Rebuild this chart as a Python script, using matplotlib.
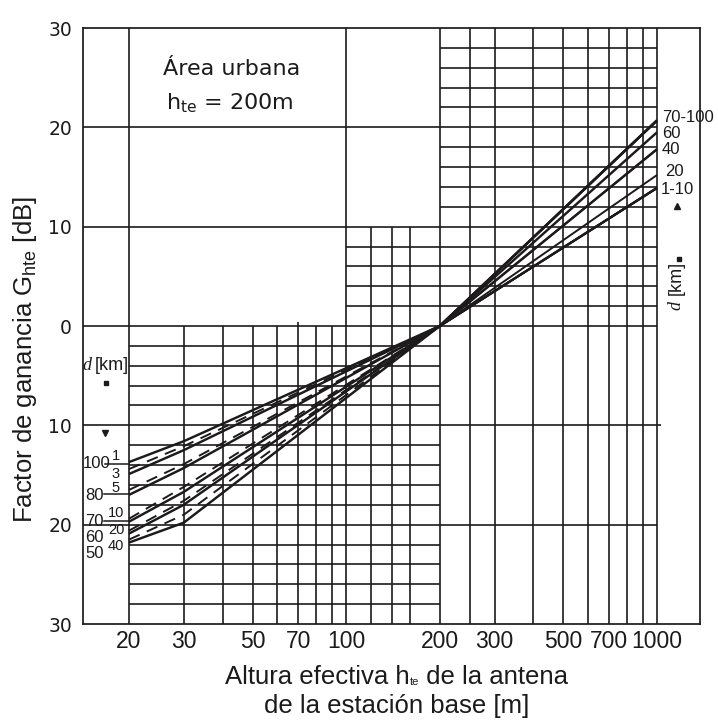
import matplotlib
matplotlib.use('Agg')
import matplotlib.pyplot as plt
from matplotlib.ticker import FixedLocator, FuncFormatter, NullLocator

# Antenna heights where the gain curves are read [m]
h_pts = [20, 30, 200, 1000]

# Gain factor G_hte [dB] for each distance d [km]
g_d100 = [-13.7, -11.6, 0.0, 20.7]
g_d80 = [-17.0, -14.3, 0.0, 20.7]
g_d70 = [-19.7, -16.7, 0.0, 20.7]
g_d60 = [-20.9, -18.0, 0.0, 19.5]
g_d50 = [-21.8, -19.8, 0.0, 17.8]
g_d3 = [-14.9, -12.5, 0.0, 13.9]
g_d1 = [-14.4, -12.1, 0.0, 13.9]
g_d5 = [-16.5, -13.9, 0.0, 13.9]
g_d10 = [-19.4, -16.2, 0.0, 13.9]
g_d20 = [-20.6, -17.6, 0.0, 15.2]
g_d40 = [-21.5, -19.0, 0.0, 17.8]

x_ticks = [20, 30, 50, 70, 100, 200, 300, 500, 700, 1000]
y_ticks = [-30, -20, -10, 0, 10, 20, 30]

INK = '#1c1a1b'
SANS = ['Liberation Sans', 'DejaVu Sans']

W, H = 718, 720
fig = plt.figure(figsize=(W / 100, H / 100), dpi=100)


def fx(px):
    return px / W


def fy(py):
    return 1 - py / H


ax = fig.add_axes([fx(83), fy(624), (700 - 83) / W, (624 - 28) / H])
ax.set_xscale('log')
ax.set_xlim(14.22, 1375)
ax.set_ylim(-30, 30)
for s in ax.spines.values():
    s.set_color(INK)
    s.set_linewidth(1.25)

# chart paper grid, denser where the curves run
glw = 1.2
xl = ax.get_xlim()[0]
ax.hlines([20, 10, 0, -10, -20], xl, 1000, color=INK, lw=glw)
ax.hlines(-10, 1000, 1030, color=INK, lw=glw)
ax.hlines([v for v in range(2, 30, 2) if v not in (10, 20)], 200, 1000, color=INK, lw=glw)
ax.hlines([2, 4, 6, 8], 100, 200, color=INK, lw=glw)
ax.hlines([v for v in range(-28, 0, 2) if v not in (-10, -20)], 20, 200, color=INK, lw=glw)
ax.vlines([20, 100, 200, 250, 300, 400, 500, 600, 700, 800, 900, 1000], -30, 30, color=INK, lw=glw)
ax.vlines([30, 40, 50, 60, 80, 90], -30, 0, color=INK, lw=glw)
ax.vlines(70, -30, 0.4, color=INK, lw=glw)
ax.vlines([120, 140, 160], -30, 10, color=INK, lw=glw)


def draw_curve(g, dashed=False, lw=1.75):
    # left part (h <= 200) in its own style, right part always solid
    left = [(h, v) for h, v in zip(h_pts, g) if h <= 200]
    right = [(h, v) for h, v in zip(h_pts, g) if h >= 200]
    ls = (0, (6, 4)) if dashed else '-'
    ax.plot([p[0] for p in left], [p[1] for p in left], color=INK, lw=lw,
            ls=ls, solid_capstyle='butt')
    ax.plot([p[0] for p in right], [p[1] for p in right], color=INK, lw=lw,
            solid_capstyle='butt')


for g in [g_d100, g_d80, g_d70, g_d60, g_d50, g_d3]:
    draw_curve(g)
for g in [g_d1, g_d5, g_d10, g_d20, g_d40]:
    draw_curve(g, dashed=True, lw=1.4)

ax.xaxis.set_major_locator(FixedLocator(x_ticks))
ax.xaxis.set_minor_locator(NullLocator())
ax.xaxis.set_major_formatter(FuncFormatter(lambda v, p: f'{v:g}'))
ax.yaxis.set_major_locator(FixedLocator(y_ticks))
ax.yaxis.set_major_formatter(FuncFormatter(lambda v, p: f'{abs(v):g}'))
ax.tick_params(axis='x', length=0, pad=4, labelsize=16.5, colors=INK)
ax.tick_params(axis='y', length=0, pad=8, labelsize=13.5, colors=INK)
for t in ax.get_xticklabels():
    t.set_fontfamily(SANS)
for t in ax.get_yticklabels():
    t.set_fontfamily(['DejaVu Sans'])

renderer = fig.canvas.get_renderer()


def text_runs(cx, py, runs):
    # lay out a line of text pieces side by side, centred on cx
    arts = []
    for s, size, dy in runs:
        t = fig.text(0, fy(py + dy), s, ha='left', va='center', fontsize=size,
                     family=SANS, color=INK)
        arts.append(t)
    widths = [a.get_window_extent(renderer).width for a in arts]
    x = cx - sum(widths) / 2
    for a, w in zip(arts, widths):
        a.set_x(fx(x))
        x += w


# axis titles
fig.text(fx(25), fy(360), r'Factor de ganancia G$_{\mathregular{hte}}$ [dB]',
         rotation=90, ha='center', va='center', fontsize=18.5, family=SANS, color=INK)
text_runs(397, 677, [('Altura efectiva h', 18.5, 0), ('te', 8, 5),
                     (' de la antena', 18.5, 0)])
fig.text(fx(397), fy(706), 'de la estación base [m]',
         ha='center', va='center', fontsize=18.5, family=SANS, color=INK)

# header in the empty upper cell
fig.text(fx(232), fy(69), 'Área urbana', ha='center', va='center',
         fontsize=16, family=['DejaVu Sans'], color=INK)
fig.text(fx(230), fy(103), r'h$_{\mathregular{te}}$ = 200m', ha='center', va='center',
         fontsize=16, family=['DejaVu Sans'], color=INK)

# distance labels at the right end of the curves
for txt, py, px in [('70-100', 117, 662), ('60', 133, 662), ('40', 150, 662),
                    ('20', 172, 665), ('1-10', 189, 661)]:
    fig.text(fx(px), fy(py), txt, ha='left', va='center', fontsize=12,
             family=SANS, color=INK)

# distance labels at the left end of the curves
for txt, py in [('100', 463), ('80', 495), ('70', 522), ('60', 537), ('50', 553)]:
    fig.text(fx(111 if txt == '100' else 104), fy(py), txt, ha='right', va='center',
             fontsize=12, family=SANS, color=INK)
for txt, py in [('1', 456), ('3', 474), ('5', 488), ('10', 513), ('20', 530), ('40', 546)]:
    fig.text(fx(116), fy(py), txt, ha='center', va='center', fontsize=10.5,
             family=SANS, color=INK)
# pointer strokes from the outer labels to the curves
fig.add_artist(plt.Line2D([fx(105), fx(129)], [fy(464), fy(464)], color=INK, lw=1.1))
fig.add_artist(plt.Line2D([fx(104), fx(129)], [fy(494), fy(494)], color=INK, lw=1.1))
fig.add_artist(plt.Line2D([fx(104), fx(129)], [fy(521), fy(521)], color=INK, lw=1.1))

# d [km] keys
fig.text(fx(82), fy(365), 'd', ha='left', va='center', fontsize=13,
         family=['Liberation Serif'], style='italic', color=INK)
fig.text(fx(95), fy(365), '[km]', ha='left', va='center', fontsize=13,
         family=SANS, color=INK)
fig.text(fx(676), fy(305), 'd', rotation=90, ha='center', va='center', fontsize=13,
         family=['Liberation Serif'], style='italic', color=INK)
fig.text(fx(676), fy(278), '[km]', rotation=90, ha='center', va='center', fontsize=13,
         family=SANS, color=INK)
fig.add_artist(plt.Line2D([fx(106)], [fy(383)], marker='s', ms=2.5, color=INK, lw=0))
fig.add_artist(plt.Line2D([fx(105)], [fy(433)], marker='v', ms=5, color=INK, lw=0))
fig.add_artist(plt.Line2D([fx(677)], [fy(206)], marker='^', ms=5, color=INK, lw=0))
fig.add_artist(plt.Line2D([fx(679)], [fy(259)], marker='s', ms=2.5, color=INK, lw=0))

fig.savefig('out.png', dpi=100)
